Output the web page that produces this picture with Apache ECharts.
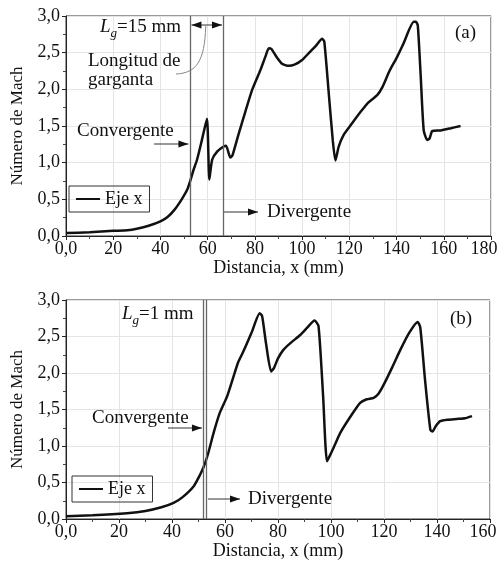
<!DOCTYPE html>
<html>
<head>
<meta charset="utf-8">
<title>Número de Mach - Eje x</title>
<style>
  * { margin: 0; padding: 0; }
  #main { width: 498px; height: 562px; }
</style>
</head>
<body>
<div id="main"></div>
<script src="https://cdn.jsdelivr.net/npm/echarts@6/dist/echarts.min.js"></script>
<script>
// (a) Lg = 15 mm
var xA = [0, 10, 20, 26, 30, 35, 40, 43, 46, 49, 51.3, 52.7, 54, 55.5, 57.5, 59.7, 60.7, 61.9, 64, 66.8, 67.8, 69.6, 70.5, 73, 76, 78.8, 82.3, 84.5, 85.9, 87, 89, 91.5, 94.3, 97, 100, 103, 106, 108.5, 109.4, 111.3, 113, 114.1, 115.5, 117.6, 121, 124.7, 128, 131.8, 134, 137, 140.2, 143, 147.3, 148.2, 149, 150.2, 151.5, 153, 154, 155.1, 158.6, 163, 167.1];
var yA = [0.04, 0.05, 0.07, 0.08, 0.1, 0.14, 0.2, 0.26, 0.36, 0.5, 0.63, 0.76, 0.9, 1.04, 1.3, 1.6, 0.77, 1.04, 1.15, 1.22, 1.23, 1.07, 1.1, 1.38, 1.7, 1.99, 2.26, 2.45, 2.56, 2.55, 2.45, 2.35, 2.32, 2.34, 2.4, 2.5, 2.6, 2.69, 2.65, 1.94, 1.3, 1.03, 1.22, 1.38, 1.53, 1.69, 1.82, 1.92, 2.03, 2.25, 2.44, 2.63, 2.92, 2.92, 2.87, 2.2, 1.44, 1.31, 1.33, 1.43, 1.44, 1.47, 1.5];
// (b) Lg = 1 mm
var xB = [0, 10, 23, 30, 36, 40.6, 44, 48.2, 50.5, 52, 53.5, 55.7, 58, 60.8, 63.2, 65, 67, 70, 73.1, 74, 75.5, 77.4, 78.5, 80, 82.1, 85, 88.4, 91, 93.8, 95.3, 97, 98.5, 100, 101.5, 103.5, 107.3, 111, 113.5, 116.1, 118, 119.9, 123, 126.2, 129.5, 132.7, 133.7, 135.5, 137.5, 138.3, 139.5, 141.2, 144, 147.5, 150.5, 153.2];
var yB = [0.036, 0.05, 0.08, 0.11, 0.16, 0.22, 0.3, 0.45, 0.6, 0.72, 0.88, 1.18, 1.45, 1.68, 1.95, 2.15, 2.3, 2.55, 2.82, 2.78, 2.4, 2.02, 2.07, 2.2, 2.32, 2.42, 2.52, 2.62, 2.72, 2.64, 1.7, 0.79, 0.9, 1.02, 1.18, 1.4, 1.59, 1.64, 1.66, 1.72, 1.84, 2.07, 2.32, 2.55, 2.7, 2.62, 1.9, 1.22, 1.2, 1.27, 1.34, 1.36, 1.37, 1.38, 1.41];

var lgA = [52.7, 66.5];   // límites de la garganta (a)
var lgB = [51.8, 52.8];   // límites de la garganta (b)
var xMaxA = 180, xMaxB = 160;
var seriesName = 'Eje x';

var FONT = "'Liberation Serif', 'Times New Roman', serif";
var INK = '#111';

function zip(xs, ys) {
  return xs.map(function (x, i) { return [x, ys[i]]; });
}

function xAxisCfg(grid, max) {
  return {
    type: 'value', gridIndex: grid, min: 0, max: max, interval: 20,
    name: 'Distancia, x (mm)', nameLocation: 'middle', nameGap: 23,
    nameTextStyle: { fontFamily: FONT, fontSize: 18, color: INK },
    axisLine: { lineStyle: { color: '#222' } },
    axisTick: { length: 4, lineStyle: { color: '#222' } },
    minorTick: { show: true, splitNumber: 2, length: 3, lineStyle: { color: '#444' } },
    splitLine: { lineStyle: { color: '#e4e4e4' } },
    axisLabel: {
      fontFamily: FONT, fontSize: 18, color: INK, margin: 4,
      // la última etiqueta se desplaza para que quepa en el borde
      rich: { r: { fontFamily: FONT, fontSize: 18, color: INK, padding: [0, 14, 0, 0] } },
      formatter: function (v) {
        if (v === 0) return '0,0';
        if (v === max) return '{r|' + v + '}';
        return String(v);
      }
    }
  };
}

function yAxisCfg(grid) {
  return {
    type: 'value', gridIndex: grid, min: 0, max: 3, interval: 0.5,
    name: 'Número de Mach', nameLocation: 'middle', nameGap: 40,
    nameTextStyle: { fontFamily: FONT, fontSize: 17, color: INK },
    axisLine: { show: true, lineStyle: { color: '#222' } },
    axisTick: { show: true, length: 4, lineStyle: { color: '#222' } },
    minorTick: { show: true, splitNumber: 2, length: 3, lineStyle: { color: '#444' } },
    splitLine: { lineStyle: { color: '#e4e4e4' } },
    axisLabel: {
      fontFamily: FONT, fontSize: 18, color: INK, margin: 6,
      formatter: function (v) { return v.toFixed(1).replace('.', ','); }
    }
  };
}

function seriesCfg(idx, data, lg) {
  return {
    name: seriesName, type: 'line', xAxisIndex: idx, yAxisIndex: idx,
    data: data, symbol: 'none', smooth: 0.2,
    color: '#111',
    lineStyle: { color: '#111', width: 2.5 },
    markLine: {
      silent: true, symbol: 'none', animation: false,
      label: { show: false },
      lineStyle: { color: '#666', width: 1.3, type: 'solid' },
      data: lg.map(function (v) { return { xAxis: v }; })
    }
  };
}

function legendCfg(left, top) {
  return {
    data: [seriesName], left: left, top: top, orient: 'vertical',
    borderColor: '#333', borderWidth: 1, borderRadius: 0,
    padding: [4, 7, 4, 7], icon: 'rect', itemWidth: 24, itemHeight: 2,
    selectedMode: false,
    textStyle: { fontFamily: FONT, fontSize: 18, color: INK }
  };
}

var chart = echarts.init(document.getElementById('main'));
var option = {
  backgroundColor: '#fff',
  animation: false,
  grid: [
    { left: 66, right: 7, top: 16, height: 220, show: true, borderColor: '#333', borderWidth: 1, outerBoundsMode: 'none', containLabel: false },
    { left: 66, right: 8, top: 300, height: 219, show: true, borderColor: '#333', borderWidth: 1, outerBoundsMode: 'none', containLabel: false }
  ],
  xAxis: [xAxisCfg(0, xMaxA), xAxisCfg(1, xMaxB)],
  yAxis: [yAxisCfg(0), yAxisCfg(1)],
  legend: [legendCfg(69, 186), legendCfg(72, 476)],
  series: [seriesCfg(0, zip(xA, yA), lgA), seriesCfg(1, zip(xB, yB), lgB)]
};
chart.setOption(option);

// anotaciones
function txt(s, x, y, size, extra) {
  var st = { text: s, x: x, y: y, font: (size || 19) + 'px ' + FONT, fill: INK, align: 'left', verticalAlign: 'middle' };
  if (extra) for (var k in extra) st[k] = extra[k];
  return { type: 'text', silent: true, style: st };
}
function head(x, y, dir) {
  return { type: 'polygon', silent: true, shape: { points: [[x, y], [x - dir * 10, y - 3.5], [x - dir * 10, y + 3.5]] }, style: { fill: '#111' } };
}
function arrow(x1, x2, y, both) {
  var els = [{ type: 'line', silent: true, shape: { x1: x1, y1: y, x2: x2, y2: y }, style: { stroke: '#333', lineWidth: 1 } }, head(x2, y, 1)];
  if (both) els.push(head(x1, y, -1));
  return els;
}
function lgText(s, x, y) {
  return txt('{i|L}{s|g}{n|' + s + '}', x, y, 19, {
    rich: {
      i: { fontFamily: FONT, fontSize: 19, fontStyle: 'italic', lineHeight: 26, verticalAlign: 'middle', fill: INK },
      s: { fontFamily: FONT, fontSize: 13, fontStyle: 'italic', lineHeight: 26, verticalAlign: 'bottom', fill: INK },
      n: { fontFamily: FONT, fontSize: 19, lineHeight: 26, verticalAlign: 'middle', fill: INK }
    }
  });
}

var pA0 = chart.convertToPixel({ xAxisIndex: 0 }, lgA[0]);
var pA1 = chart.convertToPixel({ xAxisIndex: 0 }, lgA[1]);
var pB1 = chart.convertToPixel({ xAxisIndex: 1 }, lgB[1]);

var g = [];
// (a)
g.push(lgText('=15 mm', 100, 27));
g = g.concat(arrow(pA0 + 1, pA1 - 1, 25, true));
g.push({ type: 'bezierCurve', silent: true,
  shape: { x1: (pA0 + pA1) / 2 - 1, y1: 26, cpx1: (pA0 + pA1) / 2 - 2, cpy1: 62, cpx2: 196, cpy2: 73, x2: 176, y2: 74 },
  style: { stroke: '#888', lineWidth: 1, fill: null } });
g.push(txt('Longitud de', 88, 61));
g.push(txt('garganta', 88, 80));
g.push(txt('Convergente', 77, 131));
g = g.concat(arrow(154, pA0 - 2, 144, false));
g = g.concat(arrow(pA1 + 1, 258, 212, false));
g.push(txt('Divergente', 267, 212));
g.push(txt('(a)', 455, 33));
// (b)
g.push(lgText('=1 mm', 122, 314));
g.push(txt('Convergente', 92, 418));
g = g.concat(arrow(168, pB1 - 4, 428, false));
g = g.concat(arrow(pB1 + 2, 240, 499, false));
g.push(txt('Divergente', 248, 499));
g.push(txt('(b)', 450, 319));

chart.setOption({ graphic: g });
</script>
</body>
</html>
